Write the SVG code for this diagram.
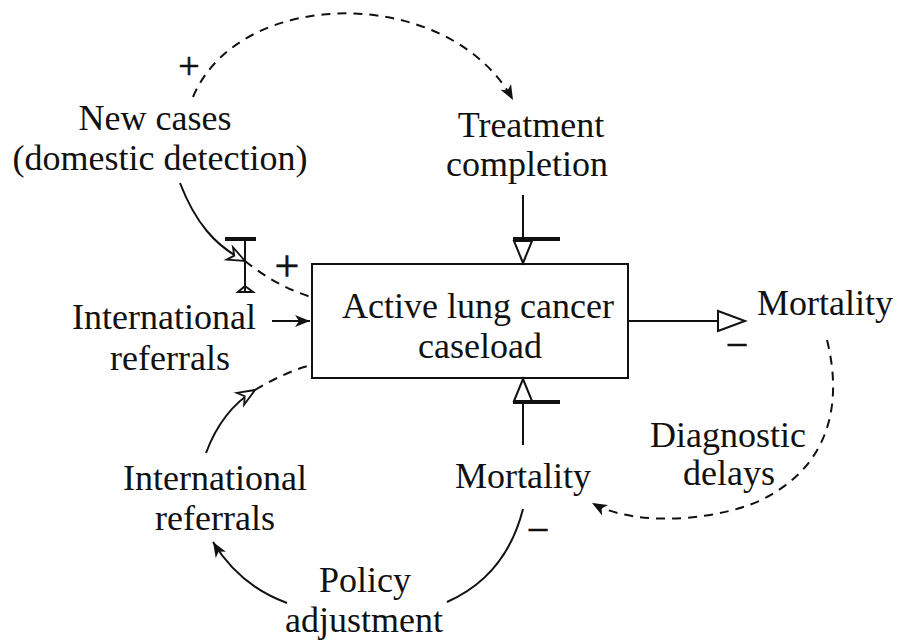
<svg xmlns="http://www.w3.org/2000/svg" width="899" height="641" viewBox="0 0 899 641">
  <defs>
    <style>
      text { font-family: "Liberation Serif", "Times New Roman", serif; font-size: 36px; fill: #111; }
      .lbl { text-anchor: middle; }
      .sign { text-anchor: middle; stroke: #111; stroke-width: 0.6; }
      .ln { fill: none; stroke: #111; stroke-width: 2; }
      .dash { fill: none; stroke: #111; stroke-width: 2; stroke-dasharray: 9 7; }
      .bar { stroke: #111; stroke-width: 4; }
      .hollow { fill: #fff; stroke: #111; stroke-width: 2; stroke-linejoin: miter; }
    </style>
    <marker id="arrowFilled" markerUnits="userSpaceOnUse" markerWidth="20" markerHeight="16" viewBox="-16 -8 18 16" refX="0" refY="0" orient="auto">
      <path d="M0,0 L-15,-6 L-11,0 L-15,6 Z" fill="#111"/>
    </marker>
    <marker id="arrowOpen" markerUnits="userSpaceOnUse" markerWidth="24" markerHeight="20" viewBox="-20 -10 22 20" refX="0" refY="0" orient="auto">
      <path d="M0,0 L-17,-7 L-12,0 L-17,7 Z" fill="#fff" stroke="#111" stroke-width="1.8"/>
    </marker>
  </defs>
  <rect width="899" height="641" fill="#fff"/>

  <!-- stock -->
  <g id="caseload">
    <rect x="312" y="264" width="316" height="114" fill="#fff" stroke="#111" stroke-width="2"/>
    <text class="lbl" x="478" y="318">Active lung cancer</text>
    <text class="lbl" x="480" y="358">caseload</text>
  </g>

  <g id="new-cases">
    <text class="lbl" x="155" y="130">New cases</text>
    <text class="lbl" x="160" y="170">(domestic detection)</text>
  </g>

  <g id="treatment-completion">
    <text class="lbl" x="531" y="137">Treatment</text>
    <text class="lbl" x="527" y="176">completion</text>
  </g>

  <g id="intl-referrals-inflow">
    <text class="lbl" x="164" y="329">International</text>
    <text class="lbl" x="170" y="370">referrals</text>
  </g>

  <g id="mortality-outflow">
    <text x="757" y="315">Mortality</text>
  </g>

  <g id="mortality">
    <text class="lbl" x="523" y="488">Mortality</text>
  </g>

  <g id="diagnostic-delays">
    <text class="lbl" x="728" y="447">Diagnostic</text>
    <text class="lbl" x="729" y="485">delays</text>
  </g>

  <g id="intl-referrals">
    <text class="lbl" x="215" y="490">International</text>
    <text class="lbl" x="215" y="530">referrals</text>
  </g>

  <g id="policy-adjustment">
    <text class="lbl" x="365" y="592">Policy</text>
    <text class="lbl" x="364" y="632">adjustment</text>
  </g>

  <!-- connectors, flows and valves -->
  <g id="connectors">
    <!-- new cases -> treatment completion -->
    <path class="dash" d="M193,97 C240,-15 450,-15 513,100" marker-end="url(#arrowFilled)"/>
    <text class="sign" x="189" y="79" style="font-size:38px">+</text>

    <!-- new cases -> inflow valve -> stock -->
    <path class="ln" d="M180,183 C195,222 215,246 245,261" marker-end="url(#arrowOpen)"/>
    <path class="dash" d="M245,261 Q276,286 311,297"/>
    <line class="ln" x1="245" y1="239" x2="245" y2="292"/>
    <line class="bar" x1="225" y1="239" x2="256" y2="239"/>
    <path class="ln" d="M238,292 L253,292 L245,286 Z" fill="#111"/>
    <text class="sign" x="287" y="281" style="font-size:44px">+</text>

    <!-- international referrals inflow -->
    <line class="ln" x1="272" y1="321" x2="310" y2="321" marker-end="url(#arrowFilled)"/>

    <!-- treatment completion valve (top) -->
    <line class="ln" x1="523" y1="195" x2="523" y2="239"/>
    <line class="bar" x1="513" y1="239" x2="560" y2="239"/>
    <path class="hollow" d="M514,241 L532,241 L523,263 Z"/>

    <!-- mortality valve (bottom) -->
    <path class="hollow" d="M514,401 L532,401 L523,379 Z"/>
    <line class="bar" x1="513" y1="402" x2="560" y2="402"/>
    <line class="ln" x1="523" y1="402" x2="523" y2="445"/>

    <!-- outflow to mortality (right) -->
    <line class="ln" x1="628" y1="321" x2="718" y2="321"/>
    <path class="hollow" d="M718,311 L745,321 L718,331 Z"/>
    <text class="sign" x="737" y="358" style="font-size:40px">−</text>

    <!-- mortality (right) -> diagnostic delays -> mortality -->
    <path class="dash" d="M827,340 C842,400 832,462 767,497 C730,518 640,530 592,503" marker-end="url(#arrowFilled)"/>

    <!-- mortality -> policy adjustment -->
    <path class="ln" d="M523,509 Q506,576 447,602"/>
    <text class="sign" x="538" y="543" style="font-size:40px">−</text>

    <!-- policy adjustment -> international referrals -->
    <path class="ln" d="M287,603 Q240,586 213,542" marker-end="url(#arrowFilled)"/>

    <!-- international referrals -> stock -->
    <path class="ln" d="M206,453 Q222,410 255,390" marker-end="url(#arrowOpen)"/>
    <path class="dash" d="M255,390 Q285,372 311,365"/>
  </g>
</svg>
